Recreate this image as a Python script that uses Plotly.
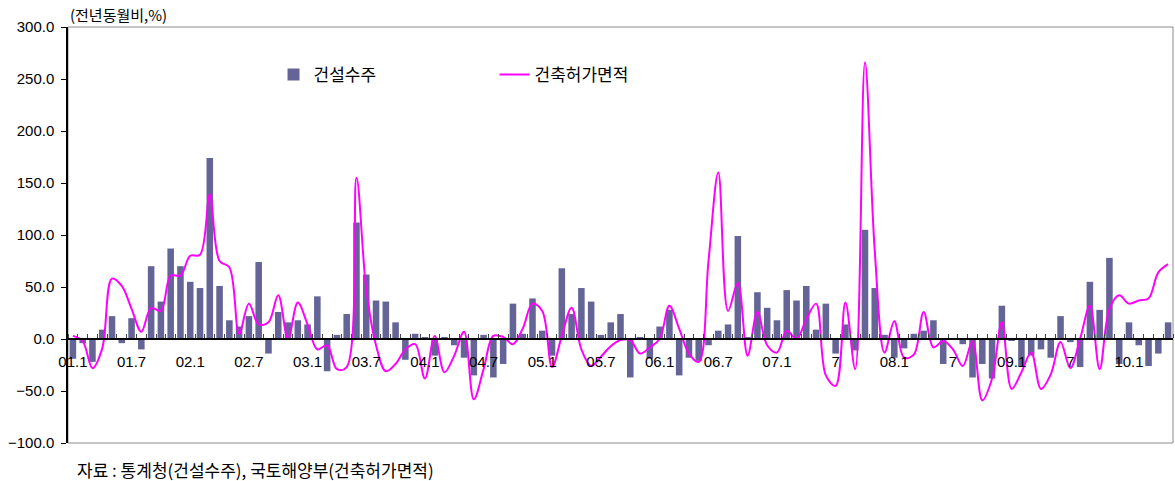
import plotly.graph_objects as go

# monthly, 2001.1 ~ 2010.5
months = [f"{y:02d}.{m}" for y in range(1, 11) for m in range(1, 13)][:113]

orders = [  # 건설수주 (YoY %)
    -19, -4, -22, 9, 22, -4, 20, -10, 70, 36, 87, 70,
    55, 49, 174, 51, 18, 12, 22, 74, -14, 26, 16, 18,
    14, 41, -31, 4, 24, 112, 62, 37, 36, 16, -20, 5,
    1, -16, 1, -6, -18, -35, 4, -37, -24, 34, 5, 39,
    8, -16, 68, 24, 49, 36, 4, 16, 24, -37, 1, -19,
    12, 28, -35, -18, -21, -6, 8, 14, 99, 1, 45, 30,
    18, 47, 37, 51, 9, 34, -14, 14, -11, 105, 49, 4,
    -18, -9, 5, 8, 18, -24, 0, -5, -37, -24, -38, 32,
    -1, -27, -16, -10, -18, 22, -3, -27, 55, 28, 78, -24,
    16, -6, -26, -14, 16,
]

permits = [  # 건축허가면적 (YoY %)
    3, -2, -28, -9, 58, 51, 29, 7, 30, 27, 61, 61,
    80, 81, 139, 75, 69, 5, 34, 14, 16, 42, 0, 35,
    14, -10, -6, -29, -27, 155, 48, -6, -31, -24, -10, -5,
    -38, 3, -32, -16, 7, -58, -29, 3, 2, -5, 10, 34,
    27, -27, 3, 30, -10, -26, -17, -7, -1, -1, -14, -8,
    0, 32, 10, -14, -22, 75, 160, 27, 54, -16, 26, -6,
    -13, 8, 0, 19, 34, -35, -45, 35, -29, 266, 85, -13,
    17, -18, -15, 26, -8, -2, -10, -26, -2, -59, -38, 16,
    -48, -32, -13, -48, -34, -3, -28, 0, 32, -29, 29, 42,
    34, 37, 39, 64, 72,
]

tick_idx = list(range(0, 113, 6))
tick_text = ["01.1", "01.7", "02.1", "02.7", "03.1", "03.7", "04.1", "04.7", "05.1", "05.7",
             "06.1", "06.7", "07.1", "7", "08.1", "7", "09.1", "7", "10.1"]

bar_colour = "#646496"
line_colour = "#FF00FF"
num_font = "Liberation Sans, Arial, sans-serif"
kr_font = "Noto Sans CJK KR, sans-serif"

x = list(range(len(months)))

fig = go.Figure()
fig.add_trace(go.Bar(
    x=x, y=orders, name="건설수주",
    marker=dict(color=bar_colour, line=dict(width=0)),
))
fig.add_trace(go.Scatter(
    x=x, y=permits, name="건축허가면적", mode="lines",
    line=dict(color=line_colour, width=2, shape="spline", smoothing=1.0),
))

fig.update_layout(
    width=1175, height=481,
    margin=dict(l=68, r=2, t=27, b=38),
    paper_bgcolor="white", plot_bgcolor="white",
    bargap=0.33,
    showlegend=True,
    legend=dict(orientation="h", x=0.186, y=0.885, xanchor="left", yanchor="middle",
                font=dict(family=kr_font, size=17, color="black"),
                entrywidth=176, entrywidthmode="pixels", bgcolor="rgba(0,0,0,0)"),
    shapes=[dict(type="rect", xref="paper", yref="paper", x0=0, y0=0, x1=1, y1=1,
                 line=dict(color="#8c8c8c", width=1), layer="below")],
    annotations=[
        dict(text="(전년동월비,%)", xref="paper", yref="paper", x=0.0, y=1.0, yshift=13,
             xanchor="left", yanchor="middle", showarrow=False,
             font=dict(family=kr_font, size=15, color="black")),
        dict(text="자료 : 통계청(건설수주), 국토해양부(건축허가면적)", xref="paper", yref="paper",
             x=0.006, y=0, yshift=-26, xanchor="left", yanchor="middle", showarrow=False,
             font=dict(family=kr_font, size=17, color="black")),
    ],
)

fig.update_xaxes(
    range=[-0.5, 112.5], anchor="free", position=0.25,
    showline=True, linecolor="black", linewidth=1.5,
    tickmode="array", tickvals=tick_idx, ticktext=tick_text, ticks="",
    ticklabelstandoff=9,
    tickfont=dict(family=num_font, size=15, color="black"),
    minor=dict(tickmode="linear", tick0=-0.5, dtick=1, ticks="inside", ticklen=4,
               tickcolor="#444444", showgrid=False),
    showgrid=False, zeroline=False,
)
fig.update_yaxes(
    range=[-100, 300], dtick=50, tickformat=".1f",
    showline=True, linecolor="black", linewidth=1.5,
    ticks="outside", ticklen=5, tickcolor="black", ticklabelstandoff=4,
    tickfont=dict(family=num_font, size=15, color="black"),
    showgrid=False, zeroline=False,
)

fig.write_html("out.html", config={"displayModeBar": False},
               post_script="document.body.style.margin='0';")
